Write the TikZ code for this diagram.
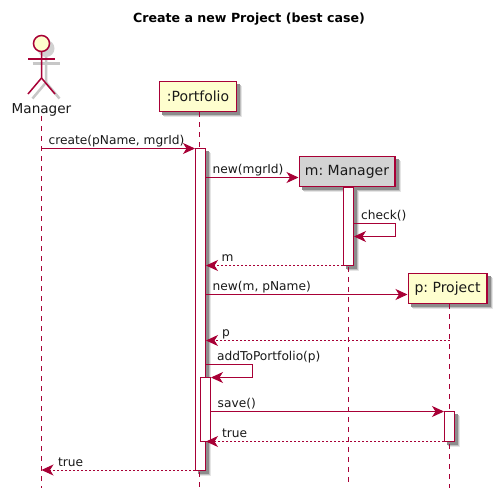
\documentclass[tikz,border=0pt]{standalone}
\usepackage{fontspec}
\setmainfont{DejaVu Sans}
\frenchspacing
\usetikzlibrary{arrows.meta,backgrounds}
\definecolor{pline}{HTML}{A80036}
\definecolor{pfill}{HTML}{FEFECE}
\definecolor{pgrey}{HTML}{D3D3D3}
\tikzset{
  part/.style={draw=pline,line width=1.5pt,fill=pfill,inner sep=0pt,minimum height=30pt,font=\fontsize{14}{16}\selectfont,text=black!90},
  bar/.style={draw=pline,line width=1pt,fill=white,inner sep=0pt,minimum width=10pt},
  life/.style={draw=pline,line width=1pt,dash pattern=on 5pt off 5pt},
  msg/.style={draw=pline,line width=1pt,-{Stealth[length=12pt,width=11pt,inset=3.5pt]}},
  ret/.style={draw=pline,line width=1pt,dash pattern=on 2pt off 2pt,-{Stealth[length=12pt,width=11pt,inset=3.5pt]}},
  lbl/.style={font=\fontsize{12.2}{14}\selectfont,text=black!90,inner sep=0pt,anchor=base west}
}
\newcommand{\softshadow}[1]{%
  \fill[black!10] ([shift={(5,5)}]#1.north west) rectangle ([shift={(5,5)}]#1.south east);
  \fill[black!25] ([shift={(4,4)}]#1.north west) rectangle ([shift={(4,4)}]#1.south east);
  \fill[black!45] ([shift={(3,3)}]#1.north west) rectangle ([shift={(3,3)}]#1.south east);
}
\begin{document}
\begin{tikzpicture}[x=1pt,y=-1pt]
\useasboundingbox (0,0) rectangle (496,499);

\node[font=\bfseries\fontsize{12.6}{15}\selectfont,text=black] (title) at (249,19) {Create a new Project (best case)};

% lifeline anchors
\coordinate (mgrtop) at (41.5,116);
\coordinate (mgrend) at (41.5,488);
\coordinate (ptop) at (199,112);
\coordinate (pend) at (199,488);
\coordinate (mtop) at (348.5,187);
\coordinate (mend) at (348.5,484);
\coordinate (prtop) at (449.5,304);
\coordinate (prend) at (449.5,488);

\draw[life] (mgrtop) -- (mgrend);
\draw[life] (ptop) -- (pend);
\draw[life] (mtop) -- (mend);
\draw[life] (prtop) -- (prend);

% actor shadow
\begin{scope}[shift={(4.5,4.5)},draw=black!22,line width=2.5pt]
\draw (28,59) -- (55,59);
\draw (41.5,52) -- (41.5,78) -- (28,94);
\draw (41.5,78) -- (55,94);
\end{scope}
\fill[black!18] (46,48.5) circle (8.5);
% actor
\draw[pline,line width=1.5pt,fill=pfill] (41.5,43.5) circle (8);
\draw[pline,line width=1.5pt] (28,59) -- (55,59);
\draw[pline,line width=1.5pt] (41.5,51.5) -- (41.5,78) -- (28,94);
\draw[pline,line width=1.5pt] (41.5,78) -- (55,94);
\node[font=\fontsize{13.6}{16}\selectfont,text=black!90] (mgrlabel) at (41.5,110) {Manager};

% participants
\node[part,minimum width=77pt] (portfolio) at (198,96.5) {:Portfolio};
\node[part,minimum width=78.5pt] (project) at (447.5,288.5) {p: Project};
\node[part,fill=pgrey,minimum width=95.5pt] (mgrbox) at (347,171.5) {m: Manager};

% activation bars
\node[bar,minimum height=321.5pt] (a1) at (200.5,309.25) {};
\node[bar,minimum height=64pt] (a2) at (205.5,409.5) {};
\node[bar,minimum height=78.5pt] (a3) at (348.5,226.25) {};
\node[bar,minimum height=30pt] (a4) at (449.5,426.5) {};

\begin{scope}[on background layer]
  \fill[white] (0,0) rectangle (496,499);
  \softshadow{portfolio}
  \softshadow{project}
  \softshadow{mgrbox}
  \softshadow{a1}
  \softshadow{a3}
  \softshadow{a4}
\end{scope}

% message levels
\coordinate (y1) at (0,148.5);
\coordinate (y2) at (0,177.5);
\coordinate (y3) at (0,223.5);
\coordinate (y4) at (0,236.5);
\coordinate (y5) at (0,265.5);
\coordinate (y6) at (0,294.5);
\coordinate (y7) at (0,340.5);
\coordinate (y8) at (0,364.5);
\coordinate (y9) at (0,377.5);
\coordinate (y10) at (0,411.5);
\coordinate (y11) at (0,441.5);
\coordinate (y12) at (0,470);
\coordinate (loop1) at (395.5,0);
\coordinate (loop2) at (252.5,0);

\draw[msg] (mgrtop |- y1) -- (a1.west |- y1);
\draw[msg] (a1.east |- y2) -- (mgrbox.west |- y2);
\draw[msg] (a3.east |- y3) -- (loop1 |- y3) -- (loop1 |- y4) -- (a3.east |- y4);
\draw[ret] (a3.west |- y5) -- (a1.east |- y5);
\draw[msg] (a1.east |- y6) -- (project.west |- y6);
\draw[ret] (prtop |- y7) -- (a1.east |- y7);
\draw[msg] (a1.east |- y8) -- (loop2 |- y8) -- (loop2 |- y9) -- (a2.east |- y9);
\draw[msg] (a2.east |- y10) -- (a4.west |- y10);
\draw[ret] (a4.west |- y11) -- (a1.east |- y11);
\draw[ret] (a1.west |- y12) -- (mgrtop |- y12);

% labels
\node[lbl] (l1) at (48.5,144) {create(pName, mgrId)};
\node[lbl] (l2) at (212.5,173) {new(mgrId)};
\node[lbl] (l3) at (361,219) {check()};
\node[lbl] (l4) at (221.5,261) {m};
\node[lbl] (l5) at (212.5,290) {new(m, pName)};
\node[lbl] (l6) at (222,336) {p};
\node[lbl] (l7) at (217,360) {addToPortfolio(p)};
\node[lbl] (l8) at (217.5,407) {save()};
\node[lbl] (l9) at (222,437) {true};
\node[lbl] (l10) at (58,466) {true};
\end{tikzpicture}
\end{document}
